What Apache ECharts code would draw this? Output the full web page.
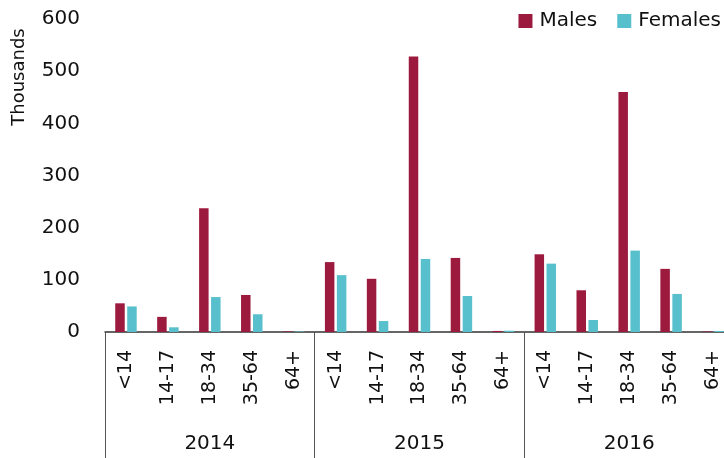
<!DOCTYPE html>
<html>
<head>
<meta charset="utf-8">
<script src="https://cdn.jsdelivr.net/npm/echarts@6/dist/echarts.min.js"></script>
<style>
  html, body { margin: 0; padding: 0; background: #fff; overflow: hidden; }
  /* the last year block runs a little past the right edge of the view */
  #chart { width: 734px; height: 458px; }
</style>
</head>
<body>
<div id="chart"></div>
<script>
// Age groups repeated for each year, plus year labels underneath
const years = ['2014', '2015', '2016'];
const ageGroups = ['<14', '14-17', '18-34', '35-64', '64+'];
const categories = years.flatMap(() => ageGroups);

// Values in thousands, ordered year by year, age group by age group
const males   = [55, 29, 237, 71, 1,   134, 102, 528, 142, 2,   149, 80, 460, 121, 1];
const females = [49, 9, 67, 34, 1,     109, 21, 140, 69, 2.5,   131, 23, 156, 73, 2];

const yTicks = { min: 0, max: 600, interval: 100 };

const FONT = 'DejaVu Sans';
const chart = echarts.init(document.getElementById('chart'), null, { renderer: 'canvas' });

chart.setOption({
  animation: false,
  textStyle: { fontFamily: FONT },
  color: ['#9d1a3f', '#58bfcd'],
  legend: {
    data: ['Males', 'Females'],
    right: 8,
    top: 6,
    itemWidth: 14,
    itemHeight: 14,
    itemGap: 20,
    icon: 'rect',
    textStyle: { fontFamily: FONT, fontSize: 20, color: '#111', padding: [0, 0, 0, 2] }
  },
  graphic: [{
    type: 'text',
    x: 19,
    y: 77,
    rotation: Math.PI / 2,
    style: {
      text: 'Thousands',
      font: '18px ' + FONT,
      fill: '#111',
      textAlign: 'center',
      textVerticalAlign: 'middle'
    }
  }],
  grid: { left: 105, top: 19, height: 313, right: 0 },
  xAxis: [
    {
      type: 'category',
      data: categories,
      position: 'bottom',
      axisLine: { lineStyle: { color: '#333', width: 1.5 } },
      axisTick: { show: false },
      axisLabel: {
        interval: 0,
        rotate: 90,
        margin: 18,
        fontSize: 19,
        color: '#111',
        fontFamily: FONT
      }
    },
    {
      type: 'category',
      data: years,
      position: 'bottom',
      axisLine: { show: false },
      axisTick: {
        show: true,
        interval: 0,
        length: 126,
        lineStyle: { color: '#555', width: 1 }
      },
      axisLabel: {
        interval: 0,
        margin: 102,
        fontSize: 20,
        color: '#111',
        fontFamily: FONT
      }
    }
  ],
  yAxis: {
    type: 'value',
    min: yTicks.min,
    max: yTicks.max,
    interval: yTicks.interval,
    axisLine: { show: false },
    axisTick: { show: false },
    splitLine: { show: false },
    axisLabel: { margin: 25, fontSize: 20, color: '#111', fontFamily: FONT }
  },
  series: [
    {
      name: 'Males',
      type: 'bar',
      data: males,
      barWidth: 9.5,
      barGap: '26%'
    },
    {
      name: 'Females',
      type: 'bar',
      data: females,
      barWidth: 9.5,
      barGap: '26%'
    }
  ]
});
</script>
</body>
</html>
